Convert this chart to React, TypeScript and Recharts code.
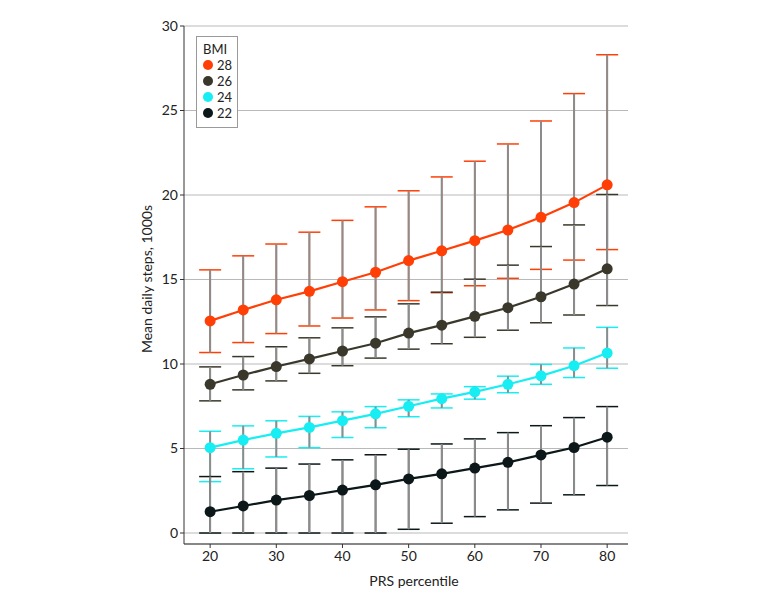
import { LineChart, Line, XAxis, YAxis, CartesianGrid, ErrorBar } from 'recharts'

const percentiles = [20, 25, 30, 35, 40, 45, 50, 55, 60, 65, 70, 75, 80]
const yTicks = [0, 5, 10, 15, 20, 25, 30]
const xTicks = [20, 30, 40, 50, 60, 70, 80]

const bmi28Mean = [12.55, 13.2, 13.8, 14.3, 14.87, 15.43, 16.12, 16.7, 17.3, 17.93, 18.68, 19.55, 20.6]
const bmi28Low = [10.68, 11.27, 11.8, 12.25, 12.72, 13.2, 13.75, 14.22, 14.63, 15.07, 15.6, 16.15, 16.77]
const bmi28High = [15.57, 16.4, 17.1, 17.8, 18.5, 19.3, 20.25, 21.07, 22.0, 23.02, 24.38, 26.0, 28.3]

const bmi26Mean = [8.8, 9.35, 9.85, 10.3, 10.77, 11.23, 11.83, 12.3, 12.82, 13.33, 13.98, 14.73, 15.63]
const bmi26Low = [7.82, 8.47, 9.0, 9.45, 9.9, 10.35, 10.88, 11.2, 11.58, 12.0, 12.44, 12.9, 13.46]
const bmi26High = [9.83, 10.44, 11.02, 11.55, 12.14, 12.79, 13.56, 14.25, 15.02, 15.85, 16.95, 18.23, 20.03]

const bmi24Mean = [5.05, 5.5, 5.9, 6.25, 6.65, 7.05, 7.5, 7.95, 8.35, 8.8, 9.3, 9.9, 10.65]
const bmi24Low = [3.04, 3.8, 4.5, 5.05, 5.65, 6.23, 6.88, 7.4, 7.92, 8.3, 8.8, 9.2, 9.75]
const bmi24High = [6.02, 6.34, 6.64, 6.9, 7.17, 7.48, 7.88, 8.23, 8.66, 9.28, 9.98, 10.95, 12.17]

const bmi22Mean = [1.26, 1.6, 1.95, 2.22, 2.54, 2.85, 3.2, 3.5, 3.84, 4.18, 4.62, 5.06, 5.67]
const bmi22Low = [0, 0, 0, 0, 0, 0, 0.22, 0.58, 0.97, 1.37, 1.77, 2.26, 2.81]
const bmi22High = [3.34, 3.63, 3.84, 4.08, 4.33, 4.63, 4.96, 5.27, 5.57, 5.94, 6.35, 6.83, 7.48]

const series = [
  { key: 'b28', name: '28', color: '#ff3f06', mean: bmi28Mean, low: bmi28Low, high: bmi28High },
  { key: 'b26', name: '26', color: '#3a382b', mean: bmi26Mean, low: bmi26Low, high: bmi26High },
  { key: 'b24', name: '24', color: '#17eef3', mean: bmi24Mean, low: bmi24Low, high: bmi24High },
  { key: 'b22', name: '22', color: '#0b1718', mean: bmi22Mean, low: bmi22Low, high: bmi22High },
]

const data = percentiles.map((p, i) => {
  const row: Record<string, number | number[]> = { p }
  series.forEach((s) => {
    row[s.key] = s.mean[i]
    row[s.key + 'Err'] = [s.mean[i] - s.low[i], s.high[i] - s.mean[i]]
  })
  return row
})

const font = 'Lato, sans-serif'

// legend drawn as an overlay so it doesn't push the plot down
function LegendBox() {
  return (
    <div
      style={{
        position: 'absolute',
        left: 196,
        top: 36,
        width: 34,
        height: 82,
        border: '1px solid #9a9a9a',
        background: '#fff',
        padding: '4px 0 4px 6px',
        fontFamily: font,
        fontSize: 13,
        lineHeight: '16px',
        color: '#222',
      }}
    >
      <div style={{ height: 16 }}>BMI</div>
      {series.map((s) => (
        <div key={s.key} style={{ display: 'flex', alignItems: 'center', height: 16 }}>
          <span
            style={{
              display: 'inline-block',
              width: 10,
              height: 10,
              borderRadius: 5,
              background: s.color,
              marginRight: 4,
            }}
          />
          {s.name}
        </div>
      ))}
    </div>
  )
}

export default function App() {
  return (
    <div style={{ position: 'absolute', left: 0, top: 0, width: 780, height: 607, background: '#fff' }}>
      <LineChart
        width={780}
        height={607}
        data={data}
        margin={{ top: 26, right: 152, left: 144, bottom: 33 }}
      >
        <CartesianGrid vertical={false} stroke="#b9b9b9" strokeWidth={1.2} />
        <XAxis
          dataKey="p"
          type="number"
          domain={[16.05, 83.15]}
          ticks={xTicks}
          height={30}
          stroke="#333"
          tickSize={4}
          tickMargin={3}
          tick={{ fill: '#222', fontSize: 14, fontFamily: font }}
          label={({ viewBox }: any) => (
            <text
              x={viewBox.x + viewBox.width / 2 + 8}
              y={viewBox.y + 42}
              textAnchor="middle"
              fill="#222"
              fontSize={14}
              fontFamily={font}
            >
              PRS percentile
            </text>
          )}
        />
        <YAxis
          type="number"
          domain={[-0.65, 30]}
          ticks={yTicks}
          width={40}
          stroke="#333"
          tickSize={4}
          tickMargin={2}
          tick={{ fill: '#222', fontSize: 14, fontFamily: font }}
          label={({ viewBox }: any) => {
            const cx = viewBox.x + 2
            const cy = viewBox.y + viewBox.height / 2 - 6
            return (
              <text
                x={cx}
                y={cy}
                transform={`rotate(-90 ${cx} ${cy})`}
                textAnchor="middle"
                dominantBaseline="central"
                fill="#222"
                fontSize={14}
                fontFamily={font}
              >
                Mean daily steps, 1000s
              </text>
            )
          }}
        />
        {series.map((s) => (
          <Line
            key={s.key}
            dataKey={s.key}
            name={s.name}
            type="linear"
            stroke={s.color}
            strokeWidth={2.2}
            dot={{ r: 5.5, fill: s.color, stroke: s.color, strokeWidth: 0 }}
            activeDot={false}
            isAnimationActive={false}
          >
            <ErrorBar dataKey={s.key + 'Err'} width={11} stroke={s.color} strokeWidth={1.5} direction="y" />
            <ErrorBar dataKey={s.key + 'Err'} width={0} stroke="#8c8c8c" strokeWidth={2} direction="y" />
          </Line>
        ))}
      </LineChart>
      <LegendBox />
    </div>
  )
}
